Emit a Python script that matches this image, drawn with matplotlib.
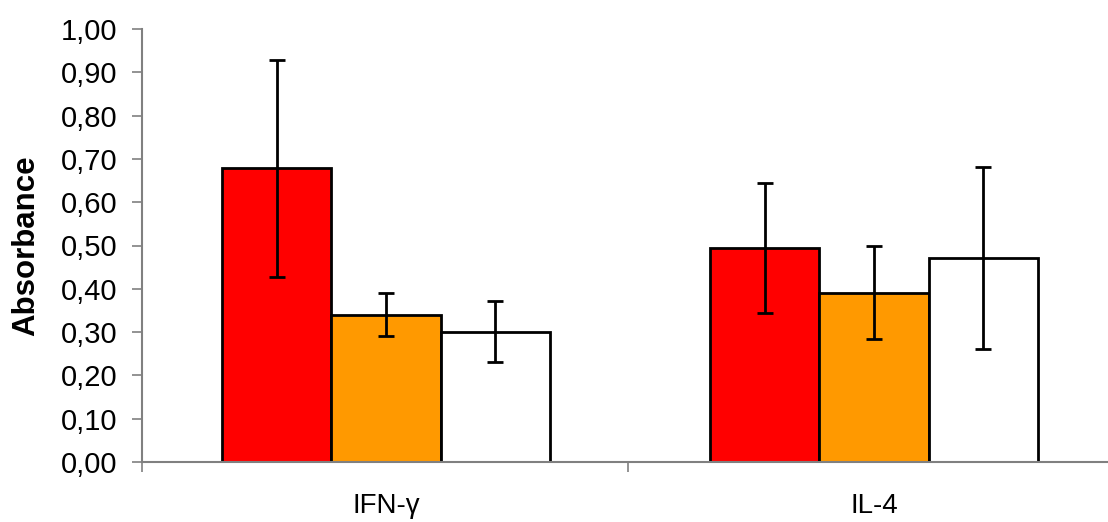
import numpy as np
import matplotlib.pyplot as plt

plt.rcParams['font.family'] = ['Liberation Sans', 'DejaVu Sans']

categories = ['IFN-γ', 'IL-4']
red_vals = [0.678, 0.495]
red_err = [0.25, 0.15]
orange_vals = [0.340, 0.391]
orange_err = [0.05, 0.108]
white_vals = [0.301, 0.472]
white_err = [0.07, 0.21]

fig = plt.figure(figsize=(11.08, 5.22), dpi=100)
ax = fig.add_axes([142 / 1108, 60 / 522, 976 / 1108, 433 / 522])

x = np.arange(len(categories))
w = 0.224
err_kw = dict(ecolor='black', elinewidth=2, capsize=5.5, capthick=2)
ax.bar(x - w, red_vals, w, yerr=red_err, color='#ff0000', edgecolor='black', linewidth=2, error_kw=err_kw)
ax.bar(x, orange_vals, w, yerr=orange_err, color='#ff9900', edgecolor='black', linewidth=2, error_kw=err_kw)
ax.bar(x + w, white_vals, w, yerr=white_err, color='white', edgecolor='black', linewidth=2, error_kw=err_kw)

ax.set_xlim(-0.5, 1.5)
ax.set_ylim(0, 1.0)
yt = np.arange(0, 1.01, 0.1)
ax.set_yticks(yt)
ax.set_yticklabels([('%.2f' % v).replace('.', ',') for v in yt])
ax.set_xticks(x)
ax.set_xticklabels(categories)
ax.set_xticks([-0.5, 0.495, 1.5], minor=True)
ax.tick_params(axis='x', which='major', length=0, pad=22, labelsize=20)
ax.tick_params(axis='x', which='minor', length=7, width=1.2, color='#808080')
ax.tick_params(axis='y', length=7, width=1.2, color='#808080', pad=11, labelsize=21)

for s in ['top', 'right']:
    ax.spines[s].set_visible(False)
for s in ['left', 'bottom']:
    ax.spines[s].set_color('#808080')
    ax.spines[s].set_linewidth(1.5)

ax.set_ylabel('Absorbance', fontsize=22.5, fontweight='bold', labelpad=14)

fig.savefig('out.png', dpi=100)
